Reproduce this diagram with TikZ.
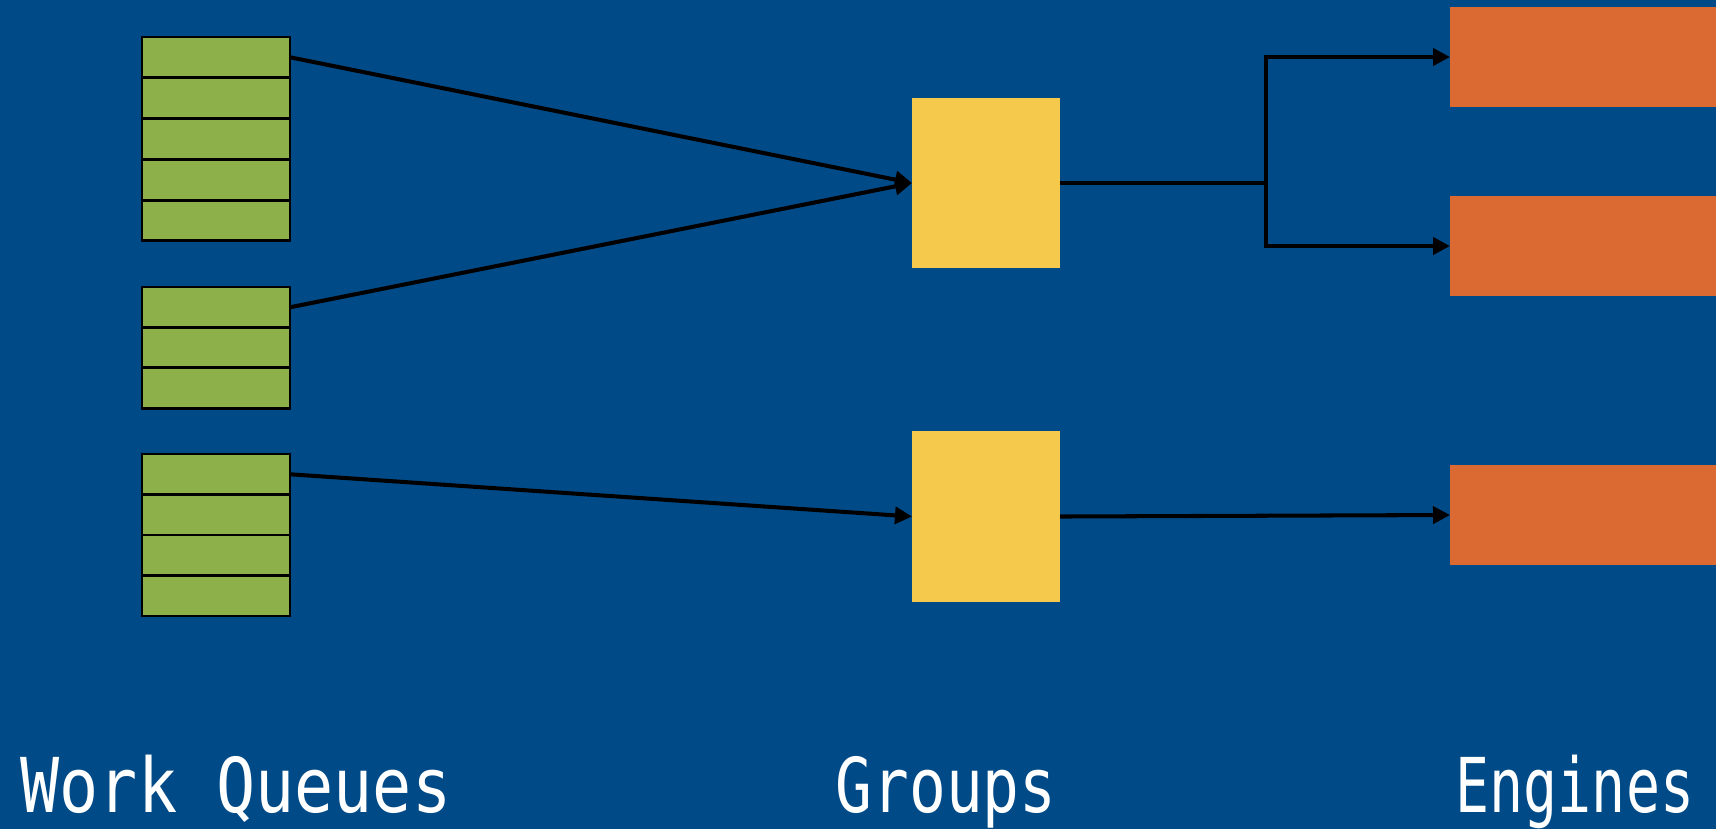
\documentclass[tikz,border=0pt]{standalone}
\usepackage{fontspec}
\newfontfamily\labelfont[FakeStretch=0.86]{DejaVu Sans Mono}
\usetikzlibrary{arrows.meta}
\definecolor{bg}{RGB}{0,75,135}
\definecolor{qgreen}{RGB}{141,176,74}
\definecolor{gyellow}{RGB}{245,201,76}
\definecolor{eorange}{RGB}{218,106,50}
\tikzset{
  cell/.style={draw=black, line width=0.8pt, fill=qgreen, minimum width=1.48cm,
    minimum height=0.405cm, inner sep=0pt, outer sep=0pt, anchor=north west},
  groupbox/.style={fill=gyellow, minimum width=1.48cm, minimum height=1.70cm,
    inner sep=0pt, outer sep=0pt},
  enginebox/.style={fill=eorange, minimum width=3.2cm, minimum height=1.00cm,
    inner sep=0pt, outer sep=0pt, anchor=west},
  link/.style={draw=black, line width=1.15pt},
  arr/.style={link, -{Triangle[length=0.17cm,width=0.17cm]}},
  caption/.style={text=white, inner sep=0pt, anchor=base west,
    font=\fontsize{21.5pt}{24pt}\labelfont}
}
\begin{document}
\begin{tikzpicture}[x=0.01cm,y=-0.01cm]
\clip (0,0) rectangle (1716,829);
\fill[bg] (0,0) rectangle (1716,829);

% work queues
\foreach \i in {1,...,5} \node[cell] (qa\i) at (142,{37+(\i-1)*40.8}) {};
\foreach \i in {1,...,3} \node[cell] (qb\i) at (142,{287+(\i-1)*40.3}) {};
\foreach \i in {1,...,4} \node[cell] (qc\i) at (142,{454+(\i-1)*40.5}) {};

% groups
\node[groupbox] (g1) at (986,183) {};
\node[groupbox] (g2) at (986,516.5) {};

% engines
\node[enginebox] (e1) at (1450,57) {};
\node[enginebox] (e2) at (1450,246) {};
\node[enginebox] (e3) at (1450,515) {};

% queue to group
\draw[arr] (qa1.east) -- (g1.west);
\draw[arr] (qb1.east) -- (g1.west);
\draw[arr] (qc1.east) -- (g2.west);

% group to engine
\coordinate (fork) at (1266,183);
\draw[link] (g1.east) -- (fork);
\draw[arr] (fork) |- (e1.west);
\draw[arr] (fork) |- (e2.west);
\draw[arr] (g2.east) -- (e3.west);

% captions
\node[caption] (lq) at (20,812) {Work Queues};
\node[caption] (lg) at (835,812) {\scalebox{0.94}[1]{Groups}};
\node[caption] (le) at (1455,812) {\scalebox{0.87}[1]{Engines}};
\end{tikzpicture}
\end{document}
